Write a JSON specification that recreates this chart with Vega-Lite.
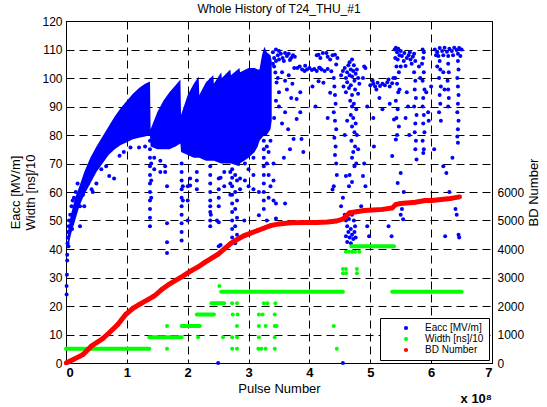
{
"$schema": "https://vega.github.io/schema/vega-lite/v6.json",
"autosize": "none",
"padding": {"left": 66, "top": 21, "right": 55, "bottom": 44},
"width": 426,
"height": 342,
"background": "white",
"title": {"text": "Whole History of T24_THU_#1", "fontSize": 12, "fontWeight": "normal", "font": "Liberation Sans", "color": "#000", "offset": -1},
"config": {
  "font": "Liberation Sans",
  "view": {"stroke": "#000", "strokeWidth": 1},
  "axis": {"domainColor": "#000", "gridColor": "#000", "gridDash": [8, 5], "gridOpacity": 1, "gridWidth": 1, "ticks": false, "labelColor": "#000", "labelFontSize": 12, "titleFontSize": 13, "titleFontWeight": "normal", "titleColor": "#000", "labelFont": "Liberation Sans", "titleFont": "Liberation Sans", "labelOverlap": false},
  "legend": {"fillColor": "white", "strokeColor": "#000", "padding": 5, "labelFontSize": 10, "labelColor": "#000", "symbolSize": 18, "symbolType": "circle", "rowPadding": 1, "labelOffset": 14, "symbolOffset": 16, "orient": "bottom-right", "offset": 3}
},
"datasets": {
  "band": [
    {"pulse":0.03,"low":40,"high":46},{"pulse":0.08,"low":45,"high":52},{"pulse":0.15,"low":50,"high":58},{"pulse":0.22,"low":55,"high":62},{"pulse":0.3,"low":59,"high":67},{"pulse":0.4,"low":63,"high":72},{"pulse":0.5,"low":67,"high":76},{"pulse":0.6,"low":70,"high":79.5},{"pulse":0.7,"low":73,"high":83},{"pulse":0.8,"low":75,"high":86.5},{"pulse":0.9,"low":76.5,"high":89.5},{"pulse":1.0,"low":77.5,"high":92},{"pulse":1.1,"low":78.5,"high":94.5},{"pulse":1.2,"low":79,"high":96.5},{"pulse":1.3,"low":79.5,"high":98},{"pulse":1.38,"low":80,"high":98.8},
    {"pulse":1.39,"low":76,"high":82},{"pulse":1.5,"low":75,"high":88},{"pulse":1.6,"low":75,"high":92},{"pulse":1.7,"low":75,"high":95},{"pulse":1.8,"low":76,"high":97.5},{"pulse":1.88,"low":77,"high":99.5},
    {"pulse":1.89,"low":74,"high":87},{"pulse":2.0,"low":73,"high":94},{"pulse":2.1,"low":72,"high":98},{"pulse":2.18,"low":72,"high":100.5},
    {"pulse":2.19,"low":72,"high":94},{"pulse":2.3,"low":71,"high":98.5},{"pulse":2.42,"low":71,"high":101},
    {"pulse":2.43,"low":71,"high":98},{"pulse":2.55,"low":70,"high":102},{"pulse":2.56,"low":70,"high":100},{"pulse":2.7,"low":70,"high":103},{"pulse":2.71,"low":70,"high":101},{"pulse":2.85,"low":69,"high":103.5},{"pulse":2.86,"low":70,"high":102},{"pulse":3.0,"low":72,"high":103.5},{"pulse":3.1,"low":74,"high":103.5},{"pulse":3.15,"low":76,"high":103},{"pulse":3.18,"low":78,"high":103},{"pulse":3.22,"low":79,"high":108},{"pulse":3.26,"low":80,"high":111},{"pulse":3.3,"low":80,"high":109},{"pulse":3.36,"low":82,"high":108},{"pulse":3.38,"low":85,"high":106}
  ],
  "eacc": [
    {"pulse":0.01,"eacc":24},{"pulse":0.01,"eacc":27},{"pulse":0.015,"eacc":31},{"pulse":0.02,"eacc":36},{"pulse":0.02,"eacc":38},{"pulse":0.025,"eacc":42},{"pulse":0.03,"eacc":44},{"pulse":0.035,"eacc":46},{"pulse":0.04,"eacc":41},{"pulse":0.045,"eacc":48},{"pulse":0.05,"eacc":50},{"pulse":0.07,"eacc":52},{"pulse":0.09,"eacc":55},{"pulse":0.1,"eacc":47},{"pulse":0.11,"eacc":57},{"pulse":0.13,"eacc":58},{"pulse":0.15,"eacc":53},{"pulse":0.16,"eacc":60},{"pulse":0.19,"eacc":63},{"pulse":0.23,"eacc":48},{"pulse":0.23,"eacc":55},{"pulse":0.28,"eacc":59},{"pulse":0.3,"eacc":55},
    {"pulse":0.36,"eacc":63},{"pulse":0.42,"eacc":61},{"pulse":0.44,"eacc":60},{"pulse":0.5,"eacc":63},{"pulse":0.58,"eacc":68},{"pulse":0.66,"eacc":69},{"pulse":0.71,"eacc":65.6},{"pulse":0.79,"eacc":64.7},{"pulse":0.88,"eacc":72.7},{"pulse":0.95,"eacc":74},{"pulse":1.06,"eacc":75.6},{"pulse":1.2,"eacc":75.6},{"pulse":1.3,"eacc":76},
    {"pulse":1.38,"eacc":78},{"pulse":1.38,"eacc":75},{"pulse":1.38,"eacc":72},{"pulse":1.38,"eacc":69},{"pulse":1.38,"eacc":66},{"pulse":1.38,"eacc":63},{"pulse":1.38,"eacc":60},{"pulse":1.38,"eacc":57},{"pulse":1.38,"eacc":54},{"pulse":1.38,"eacc":51},{"pulse":1.38,"eacc":48},{"pulse":1.4,"eacc":70},{"pulse":1.4,"eacc":64},{"pulse":1.4,"eacc":58},{"pulse":1.45,"eacc":72},{"pulse":1.45,"eacc":68},{"pulse":1.55,"eacc":71},{"pulse":1.55,"eacc":67},{"pulse":1.63,"eacc":69},{"pulse":1.63,"eacc":67},{"pulse":1.66,"eacc":62},{"pulse":1.66,"eacc":49},{"pulse":1.66,"eacc":42.4},{"pulse":1.66,"eacc":38.6},
    {"pulse":1.9,"eacc":70},{"pulse":1.9,"eacc":67},{"pulse":1.9,"eacc":64},{"pulse":1.9,"eacc":61},{"pulse":1.9,"eacc":58},{"pulse":1.9,"eacc":55},{"pulse":1.9,"eacc":52},{"pulse":1.9,"eacc":49},{"pulse":1.9,"eacc":46},{"pulse":1.9,"eacc":43},{"pulse":1.92,"eacc":62},{"pulse":1.92,"eacc":57},{"pulse":2.0,"eacc":62},{"pulse":2.0,"eacc":57},{"pulse":2.0,"eacc":50},{"pulse":2.04,"eacc":64.7},{"pulse":2.04,"eacc":62.3},{"pulse":2.15,"eacc":67},{"pulse":2.15,"eacc":64},{"pulse":2.15,"eacc":61},
    {"pulse":2.37,"eacc":69},{"pulse":2.37,"eacc":66},{"pulse":2.37,"eacc":63},{"pulse":2.37,"eacc":60},{"pulse":2.37,"eacc":57},{"pulse":2.37,"eacc":55},{"pulse":2.37,"eacc":53},{"pulse":2.37,"eacc":50},{"pulse":2.37,"eacc":48},{"pulse":2.38,"eacc":52},{"pulse":2.48,"eacc":50},{"pulse":2.51,"eacc":64.7},{"pulse":2.51,"eacc":61},{"pulse":2.51,"eacc":58},{"pulse":2.51,"eacc":55},{"pulse":2.51,"eacc":49.4},{"pulse":2.51,"eacc":41},{"pulse":2.54,"eacc":41.4},{"pulse":2.54,"eacc":65},{"pulse":2.6,"eacc":67},{"pulse":2.6,"eacc":62},{"pulse":2.7,"eacc":67},{"pulse":2.7,"eacc":63},{"pulse":2.7,"eacc":59},
    {"pulse":2.73,"eacc":68},{"pulse":2.73,"eacc":65},{"pulse":2.73,"eacc":62},{"pulse":2.73,"eacc":59},{"pulse":2.73,"eacc":56},{"pulse":2.73,"eacc":53},{"pulse":2.73,"eacc":50},{"pulse":2.73,"eacc":47},{"pulse":2.73,"eacc":44},{"pulse":2.78,"eacc":66},{"pulse":2.78,"eacc":60},{"pulse":2.78,"eacc":54},{"pulse":2.78,"eacc":48},{"pulse":2.78,"eacc":42},{"pulse":2.81,"eacc":64},{"pulse":2.81,"eacc":57},{"pulse":2.81,"eacc":51},{"pulse":2.81,"eacc":45},{"pulse":2.86,"eacc":64.7},{"pulse":2.86,"eacc":61},{"pulse":2.93,"eacc":50},{"pulse":2.94,"eacc":76},{"pulse":2.94,"eacc":70},{"pulse":2.94,"eacc":64},{"pulse":3.0,"eacc":74},{"pulse":3.0,"eacc":68},{"pulse":3.0,"eacc":62},{"pulse":3.08,"eacc":72},{"pulse":3.08,"eacc":66},{"pulse":3.08,"eacc":61},{"pulse":3.17,"eacc":51.8},{"pulse":3.17,"eacc":60},
    {"pulse":3.25,"eacc":78},{"pulse":3.25,"eacc":75},{"pulse":3.25,"eacc":72},{"pulse":3.25,"eacc":69},{"pulse":3.25,"eacc":66},{"pulse":3.25,"eacc":63},{"pulse":3.25,"eacc":60},{"pulse":3.25,"eacc":57},{"pulse":3.25,"eacc":54},{"pulse":3.3,"eacc":76},{"pulse":3.3,"eacc":70},{"pulse":3.3,"eacc":50},{"pulse":3.33,"eacc":74},{"pulse":3.33,"eacc":66},{"pulse":3.33,"eacc":58},{"pulse":3.36,"eacc":78},{"pulse":3.36,"eacc":62},{"pulse":3.41,"eacc":70},{"pulse":3.41,"eacc":64},{"pulse":3.41,"eacc":57},{"pulse":3.45,"eacc":56},{"pulse":3.45,"eacc":50.7},{"pulse":3.6,"eacc":56},
    {"pulse":2.5,"eacc":0},{"pulse":4.55,"eacc":0},
    {"pulse":3.4,"eacc":109},{"pulse":3.42,"eacc":107},{"pulse":3.45,"eacc":110},{"pulse":3.48,"eacc":108},{"pulse":3.5,"eacc":106.5},{"pulse":3.53,"eacc":108.5},{"pulse":3.56,"eacc":107},{"pulse":3.6,"eacc":108.8},{"pulse":3.63,"eacc":107.7},{"pulse":3.66,"eacc":108.5},{"pulse":3.7,"eacc":107},{"pulse":3.73,"eacc":108},{"pulse":3.76,"eacc":107.5},{"pulse":3.5,"eacc":109.5},{"pulse":3.58,"eacc":106},{"pulse":3.68,"eacc":106.3},{"pulse":3.45,"eacc":106},{"pulse":3.4,"eacc":105},
    {"pulse":3.42,"eacc":104},{"pulse":3.44,"eacc":101.9},{"pulse":3.46,"eacc":98.4},{"pulse":3.48,"eacc":100},{"pulse":3.5,"eacc":95},{"pulse":3.55,"eacc":102},{"pulse":3.6,"eacc":99},{"pulse":3.63,"eacc":96},{"pulse":3.66,"eacc":101},{"pulse":3.7,"eacc":93},{"pulse":3.72,"eacc":98},{"pulse":3.75,"eacc":103.5},{"pulse":3.79,"eacc":92.6},{"pulse":3.79,"eacc":85.6},{"pulse":3.74,"eacc":78.6},{"pulse":3.87,"eacc":78.6},{"pulse":3.85,"eacc":88},{"pulse":3.6,"eacc":88},{"pulse":3.55,"eacc":84},{"pulse":3.65,"eacc":82},{"pulse":3.5,"eacc":90},{"pulse":3.45,"eacc":92},{"pulse":3.42,"eacc":86},{"pulse":3.68,"eacc":75},{"pulse":3.58,"eacc":72},{"pulse":3.9,"eacc":74},{"pulse":3.85,"eacc":95},
    {"pulse":3.8,"eacc":103.5},{"pulse":3.84,"eacc":104},{"pulse":3.88,"eacc":103},{"pulse":3.92,"eacc":102.5},{"pulse":3.96,"eacc":103},{"pulse":4.0,"eacc":103.5},{"pulse":4.04,"eacc":102.8},{"pulse":4.08,"eacc":103.2},{"pulse":4.12,"eacc":102.5},{"pulse":4.16,"eacc":103.6},{"pulse":4.2,"eacc":103},{"pulse":4.25,"eacc":102.5},{"pulse":4.3,"eacc":103.2},{"pulse":3.93,"eacc":104.3},
    {"pulse":4.12,"eacc":108},{"pulse":4.15,"eacc":108.2},{"pulse":4.18,"eacc":107},{"pulse":4.22,"eacc":108.8},{"pulse":4.28,"eacc":108.8},{"pulse":4.3,"eacc":107.5},{"pulse":4.34,"eacc":106.5},{"pulse":4.38,"eacc":108},{"pulse":4.42,"eacc":108.2},{"pulse":4.44,"eacc":104.7},{"pulse":4.46,"eacc":107},{"pulse":4.36,"eacc":102.4},{"pulse":4.17,"eacc":103.6},{"pulse":4.23,"eacc":98.3},{"pulse":4.15,"eacc":98.9},{"pulse":4.34,"eacc":94.8},{"pulse":4.1,"eacc":90},{"pulse":4.3,"eacc":86},{"pulse":4.05,"eacc":97},
    {"pulse":4.4,"eacc":100},{"pulse":4.41,"eacc":97},{"pulse":4.42,"eacc":94},{"pulse":4.43,"eacc":91},{"pulse":4.4,"eacc":88},{"pulse":4.42,"eacc":85},{"pulse":4.44,"eacc":82},{"pulse":4.41,"eacc":79},{"pulse":4.43,"eacc":76},{"pulse":4.42,"eacc":73},{"pulse":4.44,"eacc":70},{"pulse":4.45,"eacc":66},{"pulse":4.4,"eacc":62},{"pulse":4.38,"eacc":60.9},
    {"pulse":4.52,"eacc":101},{"pulse":4.55,"eacc":102.5},{"pulse":4.58,"eacc":103.5},{"pulse":4.6,"eacc":100},{"pulse":4.62,"eacc":102},{"pulse":4.64,"eacc":104.5},{"pulse":4.66,"eacc":101},{"pulse":4.68,"eacc":103},{"pulse":4.7,"eacc":100.5},{"pulse":4.72,"eacc":102.5},{"pulse":4.74,"eacc":99},{"pulse":4.76,"eacc":101.5},{"pulse":4.78,"eacc":103},{"pulse":4.8,"eacc":100},{"pulse":4.82,"eacc":98},{"pulse":4.56,"eacc":97},{"pulse":4.6,"eacc":95},{"pulse":4.65,"eacc":96.5},{"pulse":4.7,"eacc":94},{"pulse":4.75,"eacc":96},{"pulse":4.8,"eacc":94.5},{"pulse":4.62,"eacc":98.5},{"pulse":4.68,"eacc":97.5},{"pulse":4.73,"eacc":104.5},{"pulse":4.66,"eacc":105.5},{"pulse":4.7,"eacc":106.5},
    {"pulse":4.67,"eacc":92},{"pulse":4.7,"eacc":90},{"pulse":4.73,"eacc":91},{"pulse":4.77,"eacc":89},{"pulse":4.68,"eacc":87},{"pulse":4.72,"eacc":86},{"pulse":4.76,"eacc":84},{"pulse":4.7,"eacc":83},{"pulse":4.74,"eacc":81},{"pulse":4.78,"eacc":80},{"pulse":4.69,"eacc":78},{"pulse":4.75,"eacc":76},{"pulse":4.72,"eacc":74},{"pulse":4.7,"eacc":72},{"pulse":4.77,"eacc":70},{"pulse":4.74,"eacc":69},{"pulse":4.66,"eacc":66},{"pulse":4.8,"eacc":75},{"pulse":4.62,"eacc":85},{"pulse":4.58,"eacc":80},
    {"pulse":4.58,"eacc":52},{"pulse":4.6,"eacc":50},{"pulse":4.62,"eacc":48},{"pulse":4.64,"eacc":46},{"pulse":4.66,"eacc":44},{"pulse":4.68,"eacc":47},{"pulse":4.7,"eacc":45},{"pulse":4.72,"eacc":43.5},{"pulse":4.74,"eacc":46},{"pulse":4.76,"eacc":44},{"pulse":4.6,"eacc":44.5},{"pulse":4.65,"eacc":50.5},{"pulse":4.7,"eacc":52},{"pulse":4.75,"eacc":48},{"pulse":4.62,"eacc":42.5},{"pulse":4.68,"eacc":42},{"pulse":4.73,"eacc":50},
    {"pulse":4.6,"eacc":65.6},{"pulse":4.65,"eacc":62},{"pulse":4.7,"eacc":63.5},{"pulse":4.88,"eacc":65.6},{"pulse":4.92,"eacc":62},{"pulse":4.95,"eacc":48},{"pulse":4.98,"eacc":44.5},{"pulse":4.55,"eacc":58},{"pulse":4.52,"eacc":55},{"pulse":4.85,"eacc":55},{"pulse":4.9,"eacc":70},{"pulse":4.95,"eacc":90},{"pulse":4.88,"eacc":100},{"pulse":4.9,"eacc":104},{"pulse":4.92,"eacc":103.5},
    {"pulse":5.0,"eacc":97.5},{"pulse":5.05,"eacc":98},{"pulse":5.08,"eacc":97},{"pulse":5.12,"eacc":98.3},{"pulse":5.16,"eacc":97.2},{"pulse":5.2,"eacc":98},{"pulse":5.24,"eacc":97.5},{"pulse":5.28,"eacc":98.5},{"pulse":5.32,"eacc":97},{"pulse":5.36,"eacc":98.2},{"pulse":5.04,"eacc":99},{"pulse":5.1,"eacc":96},{"pulse":5.3,"eacc":99.5},{"pulse":5.38,"eacc":100},
    {"pulse":5.2,"eacc":89},{"pulse":5.39,"eacc":85.4},{"pulse":5.06,"eacc":76},{"pulse":5.36,"eacc":72.6},{"pulse":5.15,"eacc":93},{"pulse":5.32,"eacc":91},{"pulse":5.05,"eacc":86},
    {"pulse":5.4,"eacc":110},{"pulse":5.42,"eacc":110.6},{"pulse":5.44,"eacc":109},{"pulse":5.46,"eacc":110.3},{"pulse":5.48,"eacc":108},{"pulse":5.5,"eacc":109.5},{"pulse":5.41,"eacc":107},{"pulse":5.45,"eacc":106.5},{"pulse":5.43,"eacc":104},{"pulse":5.47,"eacc":102},{"pulse":5.41,"eacc":100},{"pulse":5.44,"eacc":98},{"pulse":5.46,"eacc":95},{"pulse":5.42,"eacc":92},{"pulse":5.45,"eacc":89},{"pulse":5.43,"eacc":86},{"pulse":5.47,"eacc":83},{"pulse":5.44,"eacc":80},{"pulse":5.42,"eacc":78.4},{"pulse":5.48,"eacc":96},{"pulse":5.5,"eacc":104},
    {"pulse":5.5,"eacc":66.7},{"pulse":5.45,"eacc":63.2},{"pulse":5.52,"eacc":54},{"pulse":5.54,"eacc":50.4},{"pulse":5.5,"eacc":52},{"pulse":5.3,"eacc":48},{"pulse":5.35,"eacc":44.5},{"pulse":5.55,"eacc":60},
    {"pulse":5.52,"eacc":107.7},{"pulse":5.55,"eacc":106},{"pulse":5.58,"eacc":104.2},{"pulse":5.6,"eacc":107},{"pulse":5.63,"eacc":108},{"pulse":5.66,"eacc":106.5},{"pulse":5.68,"eacc":105},{"pulse":5.7,"eacc":107.5},{"pulse":5.72,"eacc":108.5},{"pulse":5.74,"eacc":106},{"pulse":5.56,"eacc":108.8},{"pulse":5.65,"eacc":109},
    {"pulse":5.72,"eacc":102},{"pulse":5.74,"eacc":99},{"pulse":5.73,"eacc":96},{"pulse":5.75,"eacc":93},{"pulse":5.72,"eacc":90},{"pulse":5.76,"eacc":87},{"pulse":5.74,"eacc":84},{"pulse":5.73,"eacc":81},{"pulse":5.75,"eacc":78},{"pulse":5.74,"eacc":75},{"pulse":5.76,"eacc":71.4},{"pulse":5.6,"eacc":95},{"pulse":5.62,"eacc":90},{"pulse":5.58,"eacc":86},{"pulse":5.64,"eacc":80},
    {"pulse":5.86,"eacc":110},{"pulse":5.88,"eacc":109},{"pulse":5.87,"eacc":107},{"pulse":5.85,"eacc":105},{"pulse":5.88,"eacc":102},{"pulse":5.86,"eacc":99},{"pulse":5.89,"eacc":96},{"pulse":5.87,"eacc":93},{"pulse":5.86,"eacc":90},{"pulse":5.88,"eacc":87},{"pulse":5.87,"eacc":84},{"pulse":5.89,"eacc":81},{"pulse":5.86,"eacc":78},{"pulse":5.88,"eacc":75},{"pulse":5.87,"eacc":73.7},{"pulse":5.8,"eacc":104},{"pulse":5.82,"eacc":100},{"pulse":5.92,"eacc":95},{"pulse":5.95,"eacc":88},{"pulse":5.96,"eacc":85},
    {"pulse":6.06,"eacc":110},{"pulse":6.1,"eacc":109},{"pulse":6.14,"eacc":110.5},{"pulse":6.18,"eacc":109.5},{"pulse":6.22,"eacc":110.6},{"pulse":6.26,"eacc":109.2},{"pulse":6.3,"eacc":110.3},{"pulse":6.34,"eacc":109.5},{"pulse":6.38,"eacc":110.6},{"pulse":6.42,"eacc":109.8},{"pulse":6.46,"eacc":110.5},{"pulse":6.5,"eacc":110},{"pulse":6.08,"eacc":108},{"pulse":6.12,"eacc":107.7},{"pulse":6.2,"eacc":108},{"pulse":6.28,"eacc":107.7},{"pulse":6.36,"eacc":108},{"pulse":6.44,"eacc":108.5},{"pulse":6.48,"eacc":107.7},
    {"pulse":6.14,"eacc":106},{"pulse":6.15,"eacc":103},{"pulse":6.13,"eacc":100},{"pulse":6.16,"eacc":97},{"pulse":6.14,"eacc":94},{"pulse":6.15,"eacc":91},{"pulse":6.13,"eacc":88},{"pulse":6.16,"eacc":85},{"pulse":6.1,"eacc":104},{"pulse":6.2,"eacc":102},{"pulse":6.22,"eacc":96},
    {"pulse":6.28,"eacc":105},{"pulse":6.29,"eacc":102},{"pulse":6.27,"eacc":99},{"pulse":6.28,"eacc":96},{"pulse":6.29,"eacc":93},{"pulse":6.28,"eacc":90},
    {"pulse":6.44,"eacc":106},{"pulse":6.45,"eacc":103},{"pulse":6.43,"eacc":100},{"pulse":6.44,"eacc":97},{"pulse":6.45,"eacc":94},{"pulse":6.44,"eacc":91},{"pulse":6.43,"eacc":88},{"pulse":6.45,"eacc":85},{"pulse":6.44,"eacc":82},{"pulse":6.43,"eacc":79.5},{"pulse":6.44,"eacc":77.3},
    {"pulse":6.2,"eacc":69},{"pulse":6.25,"eacc":66.7},{"pulse":6.3,"eacc":60},{"pulse":6.32,"eacc":57.6},{"pulse":6.23,"eacc":44.5},{"pulse":6.4,"eacc":54},{"pulse":6.42,"eacc":52},{"pulse":6.45,"eacc":45},{"pulse":6.46,"eacc":44},{"pulse":6.05,"eacc":75},{"pulse":6.35,"eacc":72},{"pulse":6.0,"eacc":97}
  ],
  "width_runs": [
    {"start":0,"end":1.37,"width":5},{"start":1.37,"end":1.9,"width":9},{"start":1.9,"end":2.2,"width":13},{"start":2.15,"end":2.43,"width":17},{"start":2.39,"end":2.6,"width":21},{"start":2.55,"end":4.55,"width":25},{"start":5.36,"end":6.5,"width":25},{"start":4.69,"end":5.39,"width":41}
  ],
  "width": [
    {"pulse":1.66,"width":13},{"pulse":1.66,"width":5},{"pulse":2.17,"width":9},{"pulse":2.52,"width":27},{"pulse":2.58,"width":9},{"pulse":2.73,"width":21},{"pulse":2.81,"width":21},{"pulse":3.25,"width":21},{"pulse":3.31,"width":21},{"pulse":3.44,"width":21},{"pulse":2.74,"width":17},{"pulse":2.82,"width":17},{"pulse":3.17,"width":17},{"pulse":3.23,"width":17},{"pulse":3.43,"width":17},{"pulse":2.81,"width":13},{"pulse":3.17,"width":13},{"pulse":3.28,"width":13},{"pulse":3.43,"width":13},{"pulse":3.46,"width":13},{"pulse":4.4,"width":13},{"pulse":2.73,"width":9},{"pulse":2.81,"width":9},{"pulse":3.17,"width":9},{"pulse":3.43,"width":9},{"pulse":2.73,"width":5},{"pulse":2.81,"width":5},{"pulse":3.16,"width":5},{"pulse":3.21,"width":5},{"pulse":3.28,"width":5},{"pulse":3.43,"width":5},{"pulse":4.45,"width":5},{"pulse":4.6,"width":39},{"pulse":4.65,"width":39},{"pulse":4.7,"width":39},{"pulse":4.75,"width":39},{"pulse":4.82,"width":39},{"pulse":4.55,"width":33},{"pulse":4.6,"width":33},{"pulse":4.78,"width":33},{"pulse":4.55,"width":31.5},{"pulse":4.6,"width":31.5},{"pulse":4.78,"width":31.5}
  ],
  "bd": [
    {"pulse":0,"bd":0},{"pulse":0.12,"bd":120},{"pulse":0.23,"bd":240},{"pulse":0.28,"bd":300},{"pulse":0.42,"bd":600},{"pulse":0.6,"bd":850},{"pulse":0.71,"bd":1060},{"pulse":0.85,"bd":1350},{"pulse":0.98,"bd":1700},{"pulse":1.1,"bd":1920},{"pulse":1.2,"bd":2050},{"pulse":1.36,"bd":2240},{"pulse":1.45,"bd":2350},{"pulse":1.58,"bd":2590},{"pulse":1.7,"bd":2770},{"pulse":1.8,"bd":2900},{"pulse":1.9,"bd":3020},{"pulse":2.06,"bd":3240},{"pulse":2.17,"bd":3370},{"pulse":2.28,"bd":3530},{"pulse":2.5,"bd":3820},{"pulse":2.71,"bd":4200},{"pulse":2.85,"bd":4380},{"pulse":2.93,"bd":4470},{"pulse":3.15,"bd":4650},{"pulse":3.36,"bd":4820},{"pulse":3.5,"bd":4880},{"pulse":3.69,"bd":4920},{"pulse":3.93,"bd":4930},{"pulse":4.12,"bd":4930},{"pulse":4.3,"bd":4950},{"pulse":4.44,"bd":4980},{"pulse":4.55,"bd":5050},{"pulse":4.6,"bd":5150},{"pulse":4.66,"bd":5270},{"pulse":4.77,"bd":5310},{"pulse":4.9,"bd":5350},{"pulse":5.2,"bd":5390},{"pulse":5.36,"bd":5440},{"pulse":5.42,"bd":5560},{"pulse":5.5,"bd":5600},{"pulse":5.74,"bd":5640},{"pulse":5.9,"bd":5700},{"pulse":6.01,"bd":5700},{"pulse":6.28,"bd":5760},{"pulse":6.47,"bd":5830}
  ]
},
"layer": [
  {
    "layer": [
      {
        "data": {"name": "band"},
        "mark": {"type": "area", "color": "#0000ff", "opacity": 1},
        "encoding": {
          "x": {"field": "pulse", "type": "quantitative", "title": "Pulse Number", "scale": {"domain": [0, 7], "nice": false}, "axis": {"values": [0,1,2,3,4,5,6,7], "format": "d", "labelFontWeight": "bold", "labelFontSize": 13, "labelPadding": 3, "titlePadding": 3, "grid": true}},
          "y": {"field": "high", "type": "quantitative", "title": ["Eacc [MV/m]", "Width [ns]/10"], "scale": {"domain": [0, 120], "nice": false}, "axis": {"values": [0,10,20,30,40,50,60,70,80,90,100,110,120], "format": "d", "grid": true, "labelPadding": 4, "titlePadding": 4}},
          "y2": {"field": "low"}
        }
      },
      {
        "data": {"name": "eacc"},
        "mark": {"type": "point", "filled": true, "shape": "circle", "size": 16, "opacity": 1},
        "encoding": {
          "x": {"field": "pulse", "type": "quantitative", "title": "Pulse Number", "scale": {"domain": [0, 7], "nice": false}, "axis": {"values": [0,1,2,3,4,5,6,7], "format": "d", "labelFontWeight": "bold", "labelFontSize": 13, "labelPadding": 3, "titlePadding": 3, "grid": true}},
          "y": {"field": "eacc", "type": "quantitative", "title": ["Eacc [MV/m]", "Width [ns]/10"], "scale": {"domain": [0, 120], "nice": false}, "axis": {"values": [0,10,20,30,40,50,60,70,80,90,100,110,120], "format": "d", "grid": true, "labelPadding": 4, "titlePadding": 4}},
          "color": {"datum": "Eacc [MV/m]", "type": "nominal", "scale": {"domain": ["Eacc [MV/m]", "Width [ns]/10", "BD Number"], "range": ["#0000ff", "#00ff00", "#ff0000"]}, "legend": {"title": null, "symbolType": "circle"}}
        }
      },
      {
        "data": {"name": "width_runs"},
        "mark": {"type": "rule", "color": "#00ff00", "strokeWidth": 4, "strokeCap": "round"},
        "encoding": {
          "x": {"field": "start", "type": "quantitative", "title": "Pulse Number", "scale": {"domain": [0, 7], "nice": false}, "axis": {"values": [0,1,2,3,4,5,6,7], "format": "d", "labelFontWeight": "bold", "labelFontSize": 13, "labelPadding": 3, "titlePadding": 3, "grid": true}},
          "x2": {"field": "end"},
          "y": {"field": "width", "type": "quantitative", "title": ["Eacc [MV/m]", "Width [ns]/10"], "scale": {"domain": [0, 120], "nice": false}, "axis": {"values": [0,10,20,30,40,50,60,70,80,90,100,110,120], "format": "d", "grid": true, "labelPadding": 4, "titlePadding": 4}}
        }
      },
      {
        "data": {"name": "width"},
        "mark": {"type": "point", "filled": true, "shape": "circle", "size": 16, "opacity": 1},
        "encoding": {
          "x": {"field": "pulse", "type": "quantitative", "title": "Pulse Number", "scale": {"domain": [0, 7], "nice": false}, "axis": {"values": [0,1,2,3,4,5,6,7], "format": "d", "labelFontWeight": "bold", "labelFontSize": 13, "labelPadding": 3, "titlePadding": 3, "grid": true}},
          "y": {"field": "width", "type": "quantitative", "title": ["Eacc [MV/m]", "Width [ns]/10"], "scale": {"domain": [0, 120], "nice": false}, "axis": {"values": [0,10,20,30,40,50,60,70,80,90,100,110,120], "format": "d", "grid": true, "labelPadding": 4, "titlePadding": 4}},
          "color": {"datum": "Width [ns]/10", "type": "nominal"}
        }
      },
      {
        "data": {"values": [{}]},
        "mark": {"type": "text", "text": "x 10⁸", "align": "right", "baseline": "middle", "dy": 36, "fontSize": 13, "fontWeight": "bold", "color": "#000"},
        "encoding": {
          "x": {"datum": 7, "type": "quantitative", "title": "Pulse Number", "scale": {"domain": [0, 7], "nice": false}, "axis": {"values": [0,1,2,3,4,5,6,7], "format": "d", "labelFontWeight": "bold", "labelFontSize": 13, "labelPadding": 3, "titlePadding": 3, "grid": true}},
          "y": {"datum": 0, "type": "quantitative", "title": ["Eacc [MV/m]", "Width [ns]/10"], "scale": {"domain": [0, 120], "nice": false}, "axis": {"values": [0,10,20,30,40,50,60,70,80,90,100,110,120], "format": "d", "grid": true, "labelPadding": 4, "titlePadding": 4}}
        }
      }
    ]
  },
  {
    "data": {"name": "bd"},
    "layer": [
      {
        "mark": {"type": "line", "color": "#ff0000", "strokeWidth": 5},
        "encoding": {
          "x": {"field": "pulse", "type": "quantitative", "title": "Pulse Number", "scale": {"domain": [0, 7], "nice": false}, "axis": {"values": [0,1,2,3,4,5,6,7], "format": "d", "labelFontWeight": "bold", "labelFontSize": 13, "labelPadding": 3, "titlePadding": 3, "grid": true}},
          "y": {"field": "bd", "type": "quantitative", "title": "BD Number", "scale": {"domain": [0, 12000], "nice": false}, "axis": {"orient": "right", "values": [0,1000,2000,3000,4000,5000,6000], "format": "d", "grid": false, "labelPadding": 5, "titlePadding": 4, "titleAngle": 270, "titleBaseline": "top"}}
        }
      },
      {
        "mark": {"type": "point", "filled": true, "shape": "circle", "size": 20, "opacity": 1},
        "encoding": {
          "x": {"field": "pulse", "type": "quantitative", "title": "Pulse Number", "scale": {"domain": [0, 7], "nice": false}, "axis": {"values": [0,1,2,3,4,5,6,7], "format": "d", "labelFontWeight": "bold", "labelFontSize": 13, "labelPadding": 3, "titlePadding": 3, "grid": true}},
          "y": {"field": "bd", "type": "quantitative", "title": "BD Number", "scale": {"domain": [0, 12000], "nice": false}, "axis": {"orient": "right", "values": [0,1000,2000,3000,4000,5000,6000], "format": "d", "grid": false, "labelPadding": 5, "titlePadding": 4, "titleAngle": 270, "titleBaseline": "top"}},
          "color": {"datum": "BD Number", "type": "nominal"}
        }
      }
    ]
  }
],
"resolve": {"scale": {"y": "independent"}}
}
